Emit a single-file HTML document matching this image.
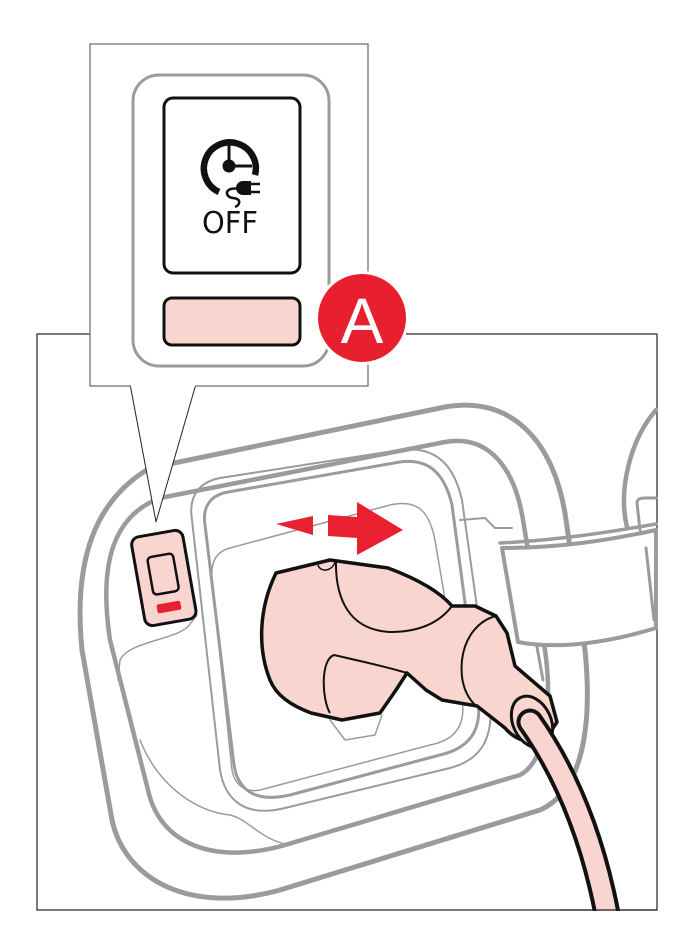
<!DOCTYPE html>
<html><head><meta charset="utf-8"><style>
html,body{margin:0;padding:0;background:#fff;}
svg{display:block;}
</style></head><body>
<svg width="699" height="951" viewBox="0 0 699 951" xmlns="http://www.w3.org/2000/svg">
<rect x="0" y="0" width="699" height="951" fill="#fff"/>
<rect x="37" y="334" width="620" height="576" fill="#fff" stroke="#222" stroke-width="1.2"/>
<g fill="none" stroke="#9a9b9d" stroke-linecap="round" stroke-linejoin="round">
  <path d="M150,468 L445,407 C510,395 555,440 566,520 L585,650 C592,720 585,790 540,810 L280,890 C190,915 125,880 112,820 L82,650 C73,560 95,500 150,468 Z" stroke-width="5"/>
  <path d="M160,498 L445,442 C490,434 515,470 523,520 L545,650 C552,700 548,760 520,775 L285,845 C215,865 160,845 148,790 L110,640 C98,560 115,515 160,498 Z" stroke-width="4.5"/>
  <path d="M220,478 L400,450 C440,445 455,470 462,500 L490,700 C494,740 480,760 450,768 L285,808 C245,818 225,800 220,770 L192,520 C188,495 200,482 220,478 Z" stroke-width="2"/>
  <path d="M228,492 L400,462 C430,458 445,475 452,505 L478,700 C482,730 470,748 440,755 L290,795 C255,803 238,790 234,765 L205,525 C202,505 212,495 228,492 Z" stroke-width="3"/>
  <path d="M230,548 L390,505 C420,498 430,515 435,540 L462,700 C466,725 455,740 430,745 L260,790 C245,793 235,785 232,770 L212,580 C210,560 218,551 230,548 Z" stroke-width="1.5"/>
  <path d="M197,615 L190,624 C180,640 130,640 120,660 L118,680" stroke-width="1.5"/>
  <path d="M140,740 C160,790 200,812 230,815 C250,820 260,840 290,845" stroke-width="1.5"/>
  <path d="M460,520 L485,518 L495,528 L512,528" stroke-width="2"/>
  <path d="M330,720 L345,740 L375,735 L382,715" stroke-width="1.5"/>
  <path d="M627,527 C618,490 630,440 656,410" stroke-width="4.5"/>
  <path d="M640,530 L637,503 C637,499 640,498 645,498 L656,498" stroke-width="3"/>
  <path d="M502,548 L518,642 C560,650 610,642 656,628 L656,530 C610,540 560,548 502,548 Z" stroke-width="4" fill="#fff"/>
  <path d="M500,543 C560,540 610,532 656,524" stroke-width="3.5"/>
  <path d="M537,647 L543,680 M585,647 L587,680 M646,548 L654,620" stroke-width="3"/>
</g>
<g transform="rotate(-10 164 579)">
  <rect x="138" y="533" width="52" height="90" rx="8" fill="#f9d5cf" stroke="#111" stroke-width="3"/>
  <rect x="151" y="555" width="26" height="38" rx="4" fill="#f9d5cf" stroke="#111" stroke-width="2.5"/>
  <rect x="152" y="603" width="24" height="9" rx="2" fill="#e8202f"/>
</g>
<path d="M276,524 L313,516 L313,535 Z" fill="#e8202f"/>
<path d="M328,515 L357,517 L357,502 L403,530 L357,555 L357,538 L328,536 Z" fill="#e8202f"/>
<!-- plug -->
<path d="M276,573 L330,560 L388,568 C420,580 440,592 452,606 L475,606 L496,616 L507,633 L515,666 L550,696 L557,722 L545,740 C530,745 515,740 505,728 L477,706 L442,700 L426,690 L407,673 L396,690 L380,713 L342,720 L311,713 C290,705 276,695 270,680 C258,650 258,610 276,573 Z" fill="#f9d5cf" stroke="#111" stroke-width="3.5" stroke-linejoin="round"/>
<path d="M336,560 C335,600 350,630 390,632 C420,632 440,622 452,606" fill="none" stroke="#111" stroke-width="2"/>
<path d="M318,565 C320,572 332,573 336,560" fill="none" stroke="#111" stroke-width="1.5"/>
<path d="M407,673 C380,665 355,660 334,655 C320,660 322,700 330,713" fill="none" stroke="#111" stroke-width="2"/>
<path d="M496,616 C480,620 465,635 462,660 C460,680 465,695 475,705" fill="none" stroke="#111" stroke-width="2"/>
<ellipse cx="532" cy="722" rx="19" ry="27" transform="rotate(-25 532 722)" fill="#f9d5cf" stroke="#111" stroke-width="3"/>
<path d="M530,722 Q585,800 607,914" fill="none" stroke="#111" stroke-width="27" stroke-linecap="round"/>
<path d="M530,722 Q585,800 607,914" fill="none" stroke="#f9d5cf" stroke-width="19" stroke-linecap="round"/>
<rect x="560" y="911" width="80" height="20" fill="#fff"/>
<line x1="560" y1="910" x2="657" y2="910" stroke="#222" stroke-width="1.2"/>
<!-- pointer -->
<path d="M130,384 L156,522 L196,384" fill="#fff" stroke="#222" stroke-width="1"/>
<rect x="90" y="44" width="278" height="342" fill="#fff" stroke="#666" stroke-width="1.2"/>
<line x1="131" y1="386" x2="195" y2="386" stroke="#fff" stroke-width="2"/>
<rect x="133" y="75" width="196" height="291" rx="26" fill="#fff" stroke="#9a9b9d" stroke-width="3"/>
<rect x="164" y="98" width="136" height="175" rx="9" fill="#fff" stroke="#111" stroke-width="3"/>
<rect x="164" y="298" width="136" height="47" rx="8" fill="#f9d5cf" stroke="#111" stroke-width="3"/>
<!-- clock icon -->
<path d="M219,192 A26,26 0 1 1 255,175" fill="none" stroke="#111" stroke-width="6.5"/>
<circle cx="229" cy="166" r="6.5" fill="#111"/>
<line x1="229" y1="143" x2="229" y2="166" stroke="#111" stroke-width="3"/>
<line x1="229" y1="166" x2="252" y2="166" stroke="#111" stroke-width="3"/>
<path d="M243,181 L251,181 L251,195 L243,195 A7,7 0 0 1 243,181 Z" fill="#111"/>
<path d="M251,184 L260,184 M251,192 L260,192" stroke="#111" stroke-width="2.5"/>
<path d="M240,189 C224,186 224,197 233,198 C242,199 240,205 235,207" fill="none" stroke="#111" stroke-width="2.5"/>
<text x="230" y="233" font-family="DejaVu Sans, sans-serif" font-size="30" text-anchor="middle" fill="#111" textLength="56" lengthAdjust="spacingAndGlyphs">OFF</text>
<circle cx="362" cy="318" r="47" fill="#fff"/>
<circle cx="362" cy="318" r="44" fill="#e81f2f"/>
<text x="362" y="343" font-family="Liberation Sans, sans-serif" font-size="64" text-anchor="middle" fill="#fff">A</text>
<line x1="406" y1="334" x2="420" y2="334" stroke="#222" stroke-width="1"/>
</svg>
</body></html>
